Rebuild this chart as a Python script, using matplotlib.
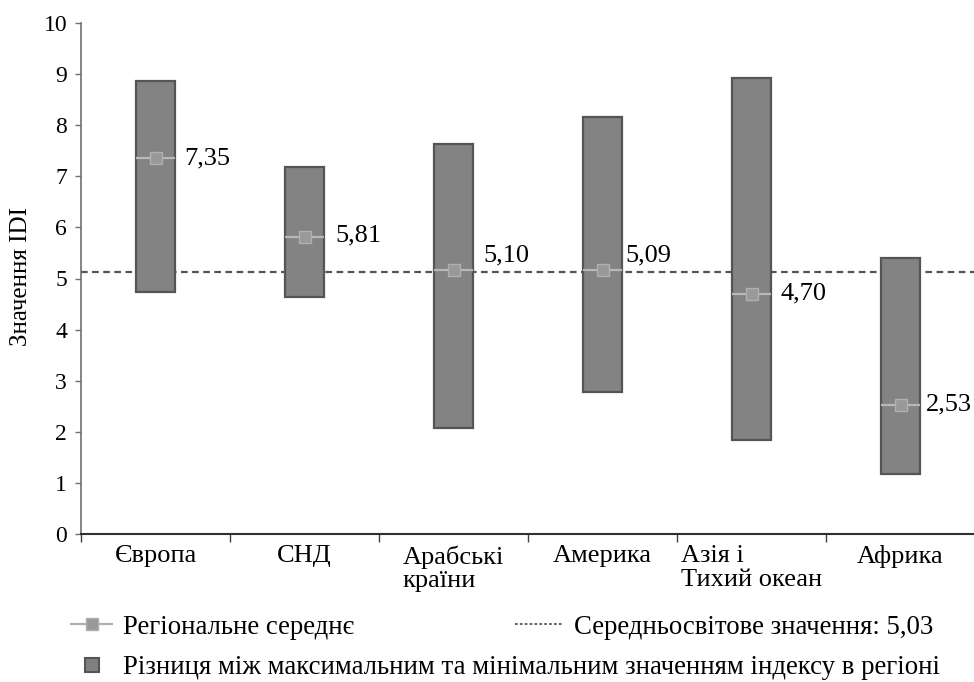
import matplotlib
matplotlib.use("Agg")
import matplotlib.pyplot as plt
from matplotlib.lines import Line2D
import numpy as np

plt.rcParams['font.family'] = ['Liberation Serif', 'DejaVu Serif']

# ---- data ----
regions = ["Європа", "СНД", "Арабські\nкраїни", "Америка", "Азія і\nТихий океан", "Африка"]
range_max = [8.86, 7.18, 7.63, 8.16, 8.92, 5.40]
range_min = [4.74, 4.64, 2.07, 2.78, 1.84, 1.17]
regional_mean = [7.35, 5.81, 5.17, 5.17, 4.70, 2.53]
mean_labels = ["7,35", "5,81", "5,10", "5,09", "4,70", "2,53"]
world_line = 5.12
world_label = "5,03"
y_ticks = [0, 1, 2, 3, 4, 5, 6, 7, 8, 9, 10]

legend_mean = "Регіональне середнє"
legend_world = "Середньосвітове значення: " + world_label
legend_range = "Різниця між максимальним та мінімальним значенням індексу в регіоні"
y_title = "Значення IDI"

# ---- styling ----
FS_TICK = 17
FS_CAT = 19
FS_LAB = 19
FS_LEG = 19.3
label_offsets = [(9, 0), (12, 2), (11, 14), (4, 14), (10, 0), (6, 0)]
bar_w = 0.26
bar_face = '#838383'
bar_edge = '#555555'

fig = plt.figure(figsize=(9.74, 6.82), dpi=100)
W, H = 974, 682
ax = fig.add_axes([81 / W, 1 - 534 / H, (975 - 81) / W, (534 - 23) / H])

x = np.arange(len(regions))
lo = np.array(range_min)
hi = np.array(range_max)

ax.axhline(world_line, color='#555555', lw=1.6, dashes=(3.0, 2.0), zorder=1)
ax.bar(x, hi - lo, bottom=lo, width=bar_w, color=bar_face, edgecolor=bar_edge,
       linewidth=1.6, zorder=2)
ax.hlines(regional_mean, x - bar_w / 2, x + bar_w / 2, colors='#b8b8b8', lw=1.6, zorder=3)
ax.plot(x, regional_mean, ls='none', marker='s', ms=8, mfc='#999999', mec='#b0b0b0',
        mew=1, zorder=4)

for xi, m, lab, off in zip(x, regional_mean, mean_labels, label_offsets):
    ax.annotate(lab, xy=(xi + bar_w / 2, m), xytext=(off[0] * 0.72, off[1] * 0.72),
                textcoords='offset points', ha='left', va='center', fontsize=FS_LAB,
                annotation_clip=False, zorder=5)

ax.set_xlim(-0.5, 5.5)
ax.set_ylim(0, 10)
ax.set_yticks(y_ticks)
ax.set_yticklabels([str(t) for t in y_ticks], fontsize=FS_TICK)
ax.tick_params(axis='y', direction='out', length=4, width=1, color='#707070', pad=6)

ax.set_xticks(x)
ax.set_xticklabels(regions, fontsize=FS_CAT, multialignment='left', linespacing=1.1)
ax.tick_params(axis='x', which='major', length=0, pad=8)
ax.set_xticks(np.arange(-0.5, 6, 1), minor=True)
ax.tick_params(axis='x', which='minor', direction='out', length=6, width=1, color='#404040')

for s in ['top', 'right']:
    ax.spines[s].set_visible(False)
ax.spines['left'].set_color('#707070')
ax.spines['left'].set_linewidth(1.2)
ax.spines['bottom'].set_color('#303030')
ax.spines['bottom'].set_linewidth(1.5)

ax.set_ylabel(y_title, fontsize=18)
ax.yaxis.set_label_coords((21 - 81) / 894, (534 - 277) / 511)
ax.yaxis.label.set_va('center')

# ---- legends ----
h_mean = Line2D([], [], color='#b0b0b0', lw=1.6, marker='s', ms=8, mfc='#999999', mec='#b0b0b0')
h_world = Line2D([], [], color='#555555', lw=1.3, dashes=(1.5, 1.2))
h_range = Line2D([], [], ls='none', marker='s', ms=9.5, mfc='#808080', mec='#555555', mew=1.5)

common = dict(frameon=False, borderpad=0, borderaxespad=0, fontsize=FS_LEG,
              loc='center left')
fig.legend([h_mean], [legend_mean], bbox_to_anchor=(71 / W, 1 - 627 / H),
           handlelength=1.53, handletextpad=0.41, **common)
fig.legend([h_world], [legend_world], bbox_to_anchor=(515 / W, 1 - 627 / H),
           handlelength=1.75, handletextpad=0.44, **common)
fig.legend([h_range], [legend_range], bbox_to_anchor=(71 / W, 1 - 668 / H),
           handlelength=1.53, handletextpad=0.41, **common)

fig.savefig("out.png", dpi=100)
